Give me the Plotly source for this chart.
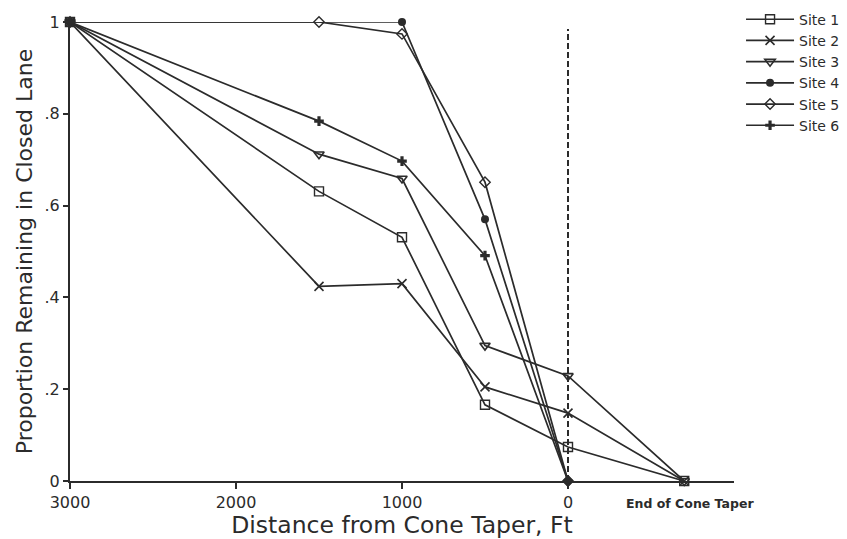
import plotly.graph_objects as go

# Distance from cone taper (ft); -700 marks "End of Cone Taper"
dist_full = [3000, 1500, 1000, 500, 0, -700]
dist_short = [3000, 1500, 1000, 500, 0]

site1 = [1.0, 0.631, 0.531, 0.166, 0.074, 0.0]
site2 = [1.0, 0.424, 0.430, 0.205, 0.148, 0.0]
site3 = [1.0, 0.712, 0.659, 0.295, 0.229, 0.0]
site4 = [1.0, None, 1.0, 0.570, 0.0]
site5 = [1.0, 1.0, 0.974, 0.651, 0.0]
site6 = [1.0, 0.784, 0.697, 0.491, 0.0]

x_tickvals = [3000, 2000, 1000, 0]
x_ticktext = ["3000", "2000", "1000", "0"]
y_tickvals = [0, 0.2, 0.4, 0.6, 0.8, 1.0]
y_ticktext = ["0", ".2", ".4", ".6", ".8", "1"]
end_label = "End of Cone Taper"
end_pos = -700

INK = "#2b2b2b"
FONT = "DejaVu Sans"

series = [
    ("Site 1", dist_full, site1, dict(symbol="square-open", size=9, line=dict(width=1.4, color=INK))),
    ("Site 2", dist_full, site2, dict(symbol="x-thin-open", size=9, line=dict(width=1.6, color=INK))),
    ("Site 3", dist_full, site3, dict(symbol="triangle-down-open", size=9, line=dict(width=1.6, color=INK))),
    ("Site 4", dist_short, site4, dict(symbol="circle", size=8, line=dict(width=0, color=INK))),
    ("Site 5", dist_short, site5, dict(symbol="diamond-open", size=8, line=dict(width=1.4, color=INK))),
    ("Site 6", dist_short, site6, dict(symbol="cross", size=8, line=dict(width=0, color=INK))),
]

fig = go.Figure()
for name, xs, ys, mk in series:
    mk = dict(mk)
    mk["color"] = INK
    fig.add_trace(go.Scatter(
        x=xs, y=ys, name=name, mode="lines+markers", connectgaps=True,
        line=dict(color=INK, width=1.7), marker=mk, cliponaxis=False,
    ))

# dashed vertical line at the cone taper (0 ft)
fig.add_shape(type="line", xref="x", yref="y", x0=0, x1=0, y0=0, y1=0.985,
              line=dict(color=INK, width=2, dash="6px,3px"), layer="below")

fig.add_annotation(x=end_pos, y=0, xref="x", yref="y", yshift=-22, xshift=6,
                   text="<b>" + end_label + "</b>", showarrow=False,
                   font=dict(family=FONT, size=12.5, color=INK))

fig.update_layout(
    width=847, height=539,
    margin=dict(l=70, r=113, t=22, b=58, autoexpand=False),
    paper_bgcolor="white", plot_bgcolor="white",
    font=dict(family=FONT, size=16, color=INK),
    showlegend=True,
    legend=dict(x=1.0106, xanchor="left", y=1.04, yanchor="top",
                font=dict(family=FONT, size=14, color=INK),
                bgcolor="rgba(0,0,0,0)", itemwidth=48, tracegroupgap=0),
    xaxis=dict(range=[3000, -1000], tickvals=x_tickvals, ticktext=x_ticktext,
               automargin=False,
               showgrid=False, zeroline=False, showline=True, linecolor=INK, linewidth=2,
               ticks="outside", ticklen=6, tickwidth=1.5, tickcolor=INK,
               tickfont=dict(family=FONT, size=16, color=INK),
               title=dict(text="Distance from Cone Taper, Ft", standoff=6,
                          font=dict(family=FONT, size=23.5, color=INK))),
    yaxis=dict(range=[0, 1], tickvals=y_tickvals, ticktext=y_ticktext,
               automargin=False,
               showgrid=False, zeroline=False, showline=True, linecolor=INK, linewidth=2,
               ticks="outside", ticklen=5, tickwidth=1.5, tickcolor=INK,
               tickfont=dict(family=FONT, size=16, color=INK),
               title=dict(text="Proportion Remaining in Closed Lane", standoff=6,
                          font=dict(family=FONT, size=22, color=INK))),
)

fig.write_html("out.html")
